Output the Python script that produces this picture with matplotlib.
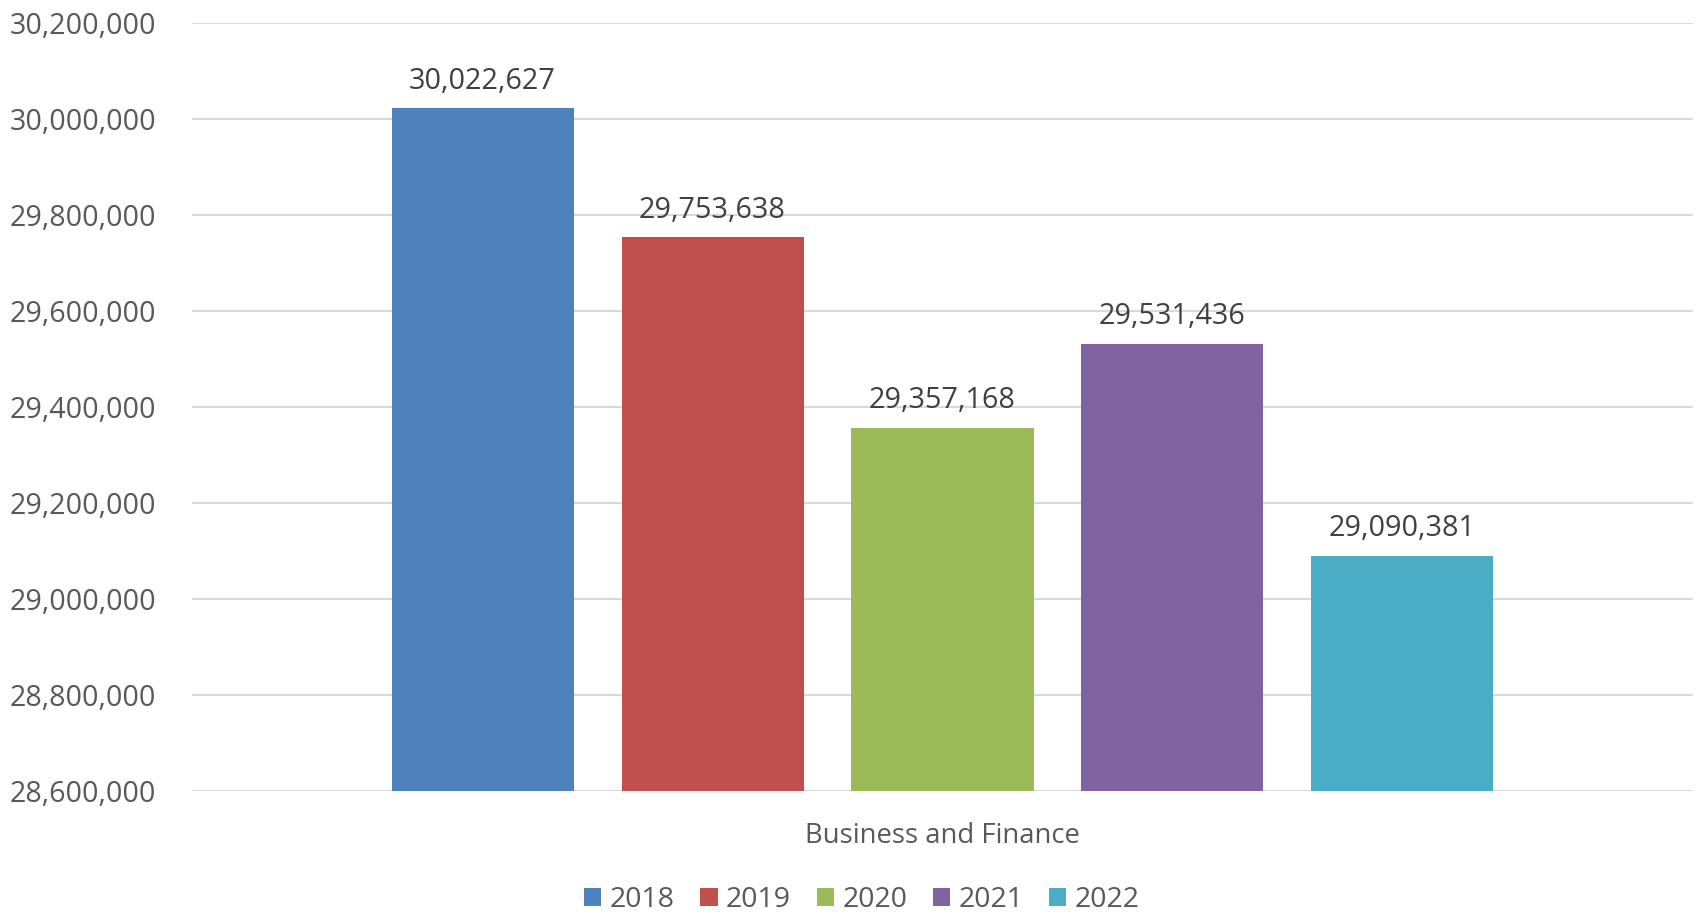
import matplotlib.pyplot as plt
from matplotlib.ticker import FuncFormatter, MultipleLocator

## Chart data
years = ['2018', '2019', '2020', '2021', '2022']
values = [30022627, 29753638, 29357168, 29531436, 29090381]
category = 'Business and Finance'
colors = ['#4F81BD', '#C0504D', '#9BBB59', '#8064A2', '#4BACC6']

plt.rcParams['font.family'] = ['Open Sans', 'DejaVu Sans']

fig = plt.figure(figsize=(16.96, 9.14), dpi=100)
ax = fig.add_axes([192 / 1696, 1 - 791 / 914, 1501 / 1696, (791 - 23) / 914])

step = 0.1532
width = 0.1213
for i, (year, val) in enumerate(zip(years, values)):
    x = (i - 2) * step
    ax.bar(x, val - 28600000, width=width, bottom=28600000, color=colors[i], label=year, zorder=3)
    ax.annotate(f'{val:,}', (x, val), xytext=(0, 9), textcoords='offset points',
                ha='center', va='bottom', fontsize=20.7, color='#404040')

ax.set_xlim(-0.5, 0.5)
ax.set_ylim(28600000, 30200000)
ax.yaxis.set_major_locator(MultipleLocator(200000))
ax.yaxis.set_major_formatter(FuncFormatter(lambda v, p: f'{int(v):,}'))
ax.grid(axis='y', color='#D9D9D9', linewidth=1.5, zorder=0)
ax.set_xticks([0])
ax.set_xticklabels([category])
ax.tick_params(axis='x', length=0, pad=22, labelsize=19.8, labelcolor='#595959')
ax.tick_params(axis='y', length=0, pad=26, labelsize=20.6, labelcolor='#595959')
for s in ax.spines.values():
    s.set_visible(False)

leg = fig.legend(loc='center', bbox_to_anchor=(862 / 1696, 1 - 900 / 914), ncol=5, frameon=False,
                 fontsize=20.5, handlelength=0.6, handleheight=0.6, handletextpad=0.3,
                 columnspacing=0.9, labelcolor='#595959')

plt.savefig('out.png', dpi=100)
plt.close()
